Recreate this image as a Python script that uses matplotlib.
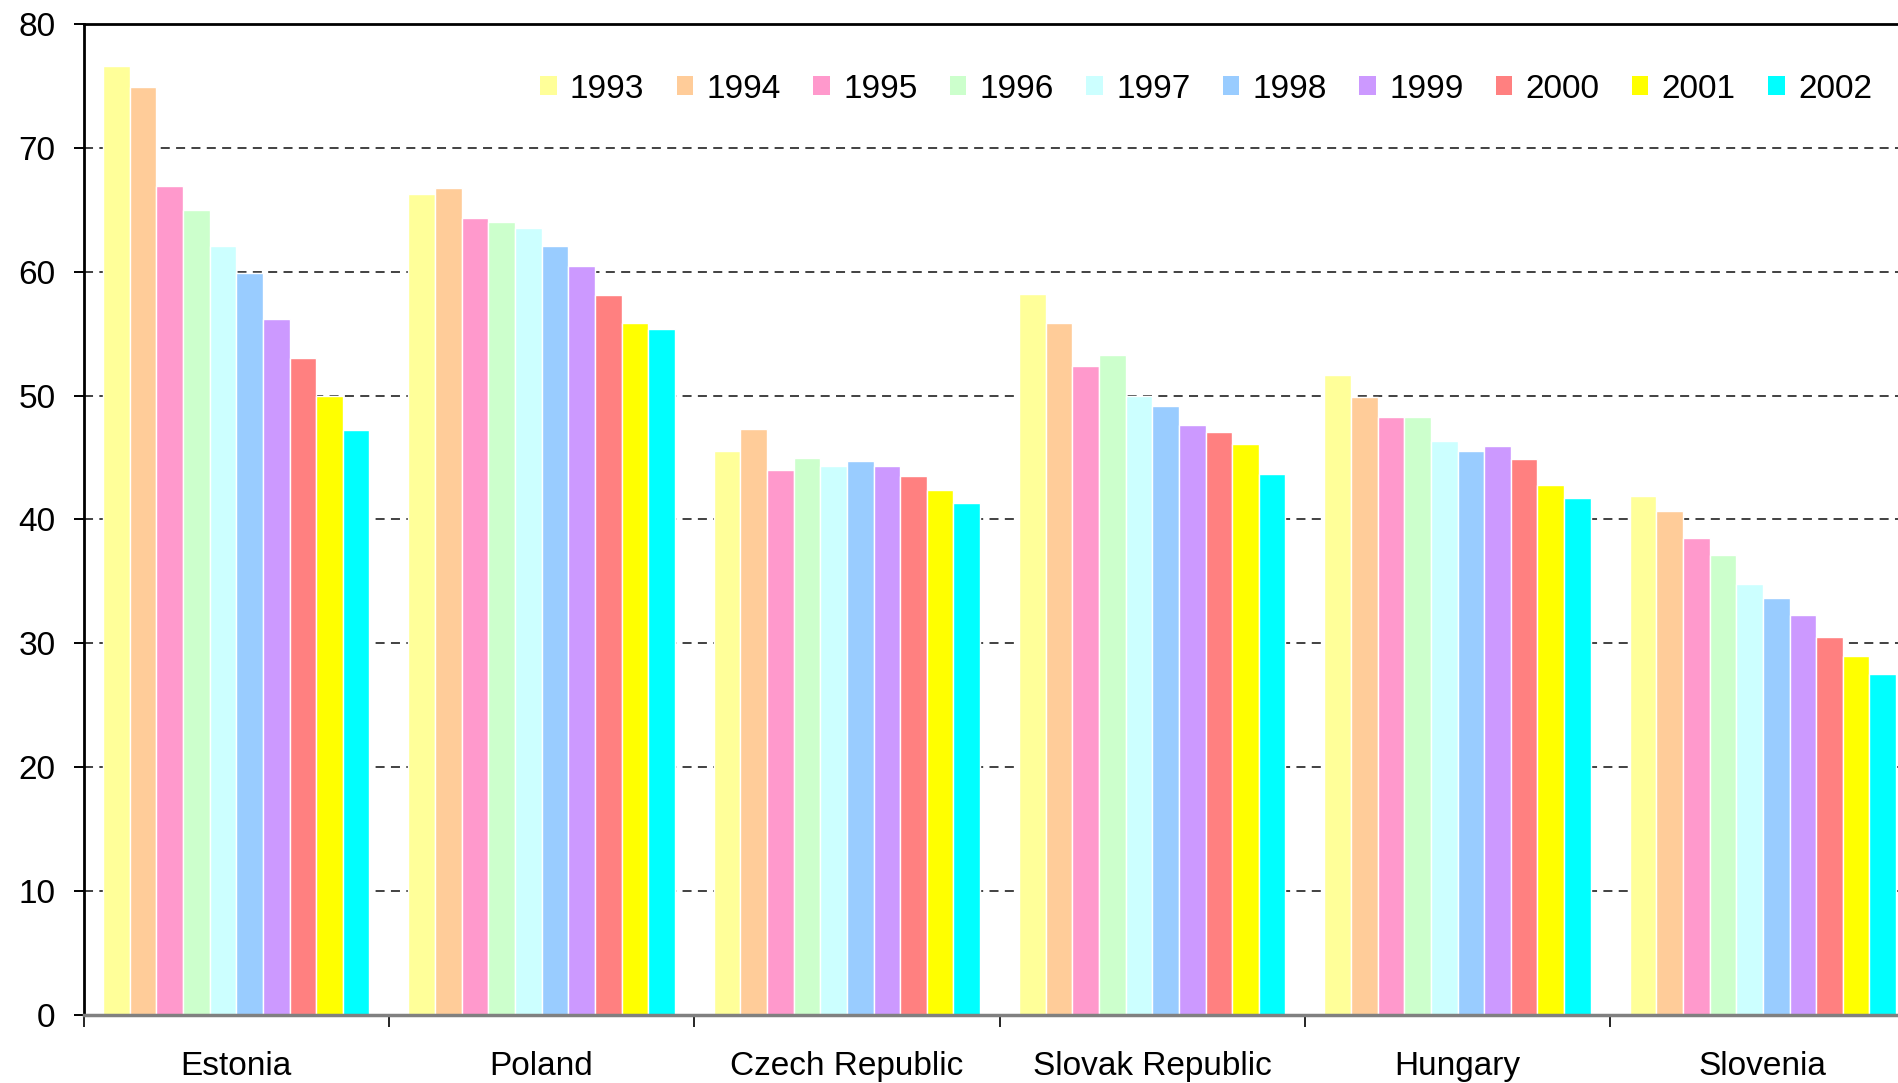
import numpy as np
import matplotlib
matplotlib.use("Agg")
import matplotlib.pyplot as plt
from matplotlib.patches import Patch

plt.rcParams["font.family"] = ["Liberation Sans", "DejaVu Sans"]

countries = ["Estonia", "Poland", "Czech Republic", "Slovak Republic", "Hungary", "Slovenia"]
years = ["1993", "1994", "1995", "1996", "1997", "1998", "1999", "2000", "2001", "2002"]

# one list per country, values for 1993..2002
estonia = [76.6, 74.9, 66.9, 65.0, 62.1, 59.9, 56.2, 53.0, 50.0, 47.2]
poland = [66.3, 66.8, 64.3, 64.0, 63.5, 62.1, 60.5, 58.1, 55.9, 55.4]
czech = [45.5, 47.3, 44.0, 45.0, 44.3, 44.7, 44.3, 43.5, 42.4, 41.3]
slovak = [58.2, 55.9, 52.4, 53.3, 50.0, 49.2, 47.6, 47.1, 46.1, 43.7]
hungary = [51.7, 49.9, 48.3, 48.3, 46.3, 45.5, 45.9, 44.9, 42.8, 41.7]
slovenia = [41.9, 40.7, 38.5, 37.1, 34.8, 33.7, 32.3, 30.5, 29.0, 27.5]

colors = ["#FFFF99", "#FFCC99", "#FF99CC", "#CCFFCC", "#CCFFFF",
          "#99CCFF", "#CC99FF", "#FF8080", "#FFFF00", "#00FFFF"]

data = np.array([estonia, poland, czech, slovak, hungary, slovenia])

FS = 24

fig = plt.figure(figsize=(18.99, 10.83), dpi=100)
# plot area runs slightly past the right edge of the image, as in the original
ax = fig.add_axes([0.0440, 0.06279, 0.9647, 0.91505])

x = np.arange(len(countries))
group_w = 0.873
bar_w = group_w / len(years)
for i, year in enumerate(years):
    offs = -group_w / 2 + bar_w * (i + 0.5)
    ax.bar(x + offs, data[:, i], width=bar_w, color=colors[i],
           edgecolor="white", linewidth=1.0, zorder=2)

ax.set_xlim(-0.5, len(countries) - 0.5)
ax.set_ylim(0, 80)
ax.set_yticks(np.arange(0, 81, 10))
ax.yaxis.grid(True, color="#333333", linestyle=(0, (5, 3.5)), linewidth=1.3)
ax.set_axisbelow(True)

# category labels at group centres, tick marks at group boundaries
ax.set_xticks(x)
ax.set_xticklabels(countries)
ax.set_xticks(np.arange(-0.5, len(countries)), minor=True)
ax.tick_params(axis="x", which="major", length=0, pad=26, labelsize=FS)
ax.tick_params(axis="x", which="minor", length=8.5, width=1.2, direction="out", color="black")
ax.tick_params(axis="y", length=7.2, width=1.4, direction="out", pad=13, labelsize=FS)

for side in ("top", "left"):
    ax.spines[side].set_color("black")
    ax.spines[side].set_linewidth(2.0)
ax.spines["bottom"].set_color("#808080")
ax.spines["bottom"].set_linewidth(2.5)
ax.spines["right"].set_visible(False)

handles = [Patch(facecolor=c, edgecolor="none", linewidth=0) for c in colors]
fig.legend(handles, years, loc="center left",
           bbox_to_anchor=(540 / 1899, 1 - 89 / 1083), bbox_transform=fig.transFigure,
           ncol=10, frameon=False, fontsize=FS, borderpad=0, borderaxespad=0,
           handlelength=0.5, handleheight=0.5, handletextpad=0.4,
           columnspacing=0.965)

fig.savefig("out.png", dpi=100)
